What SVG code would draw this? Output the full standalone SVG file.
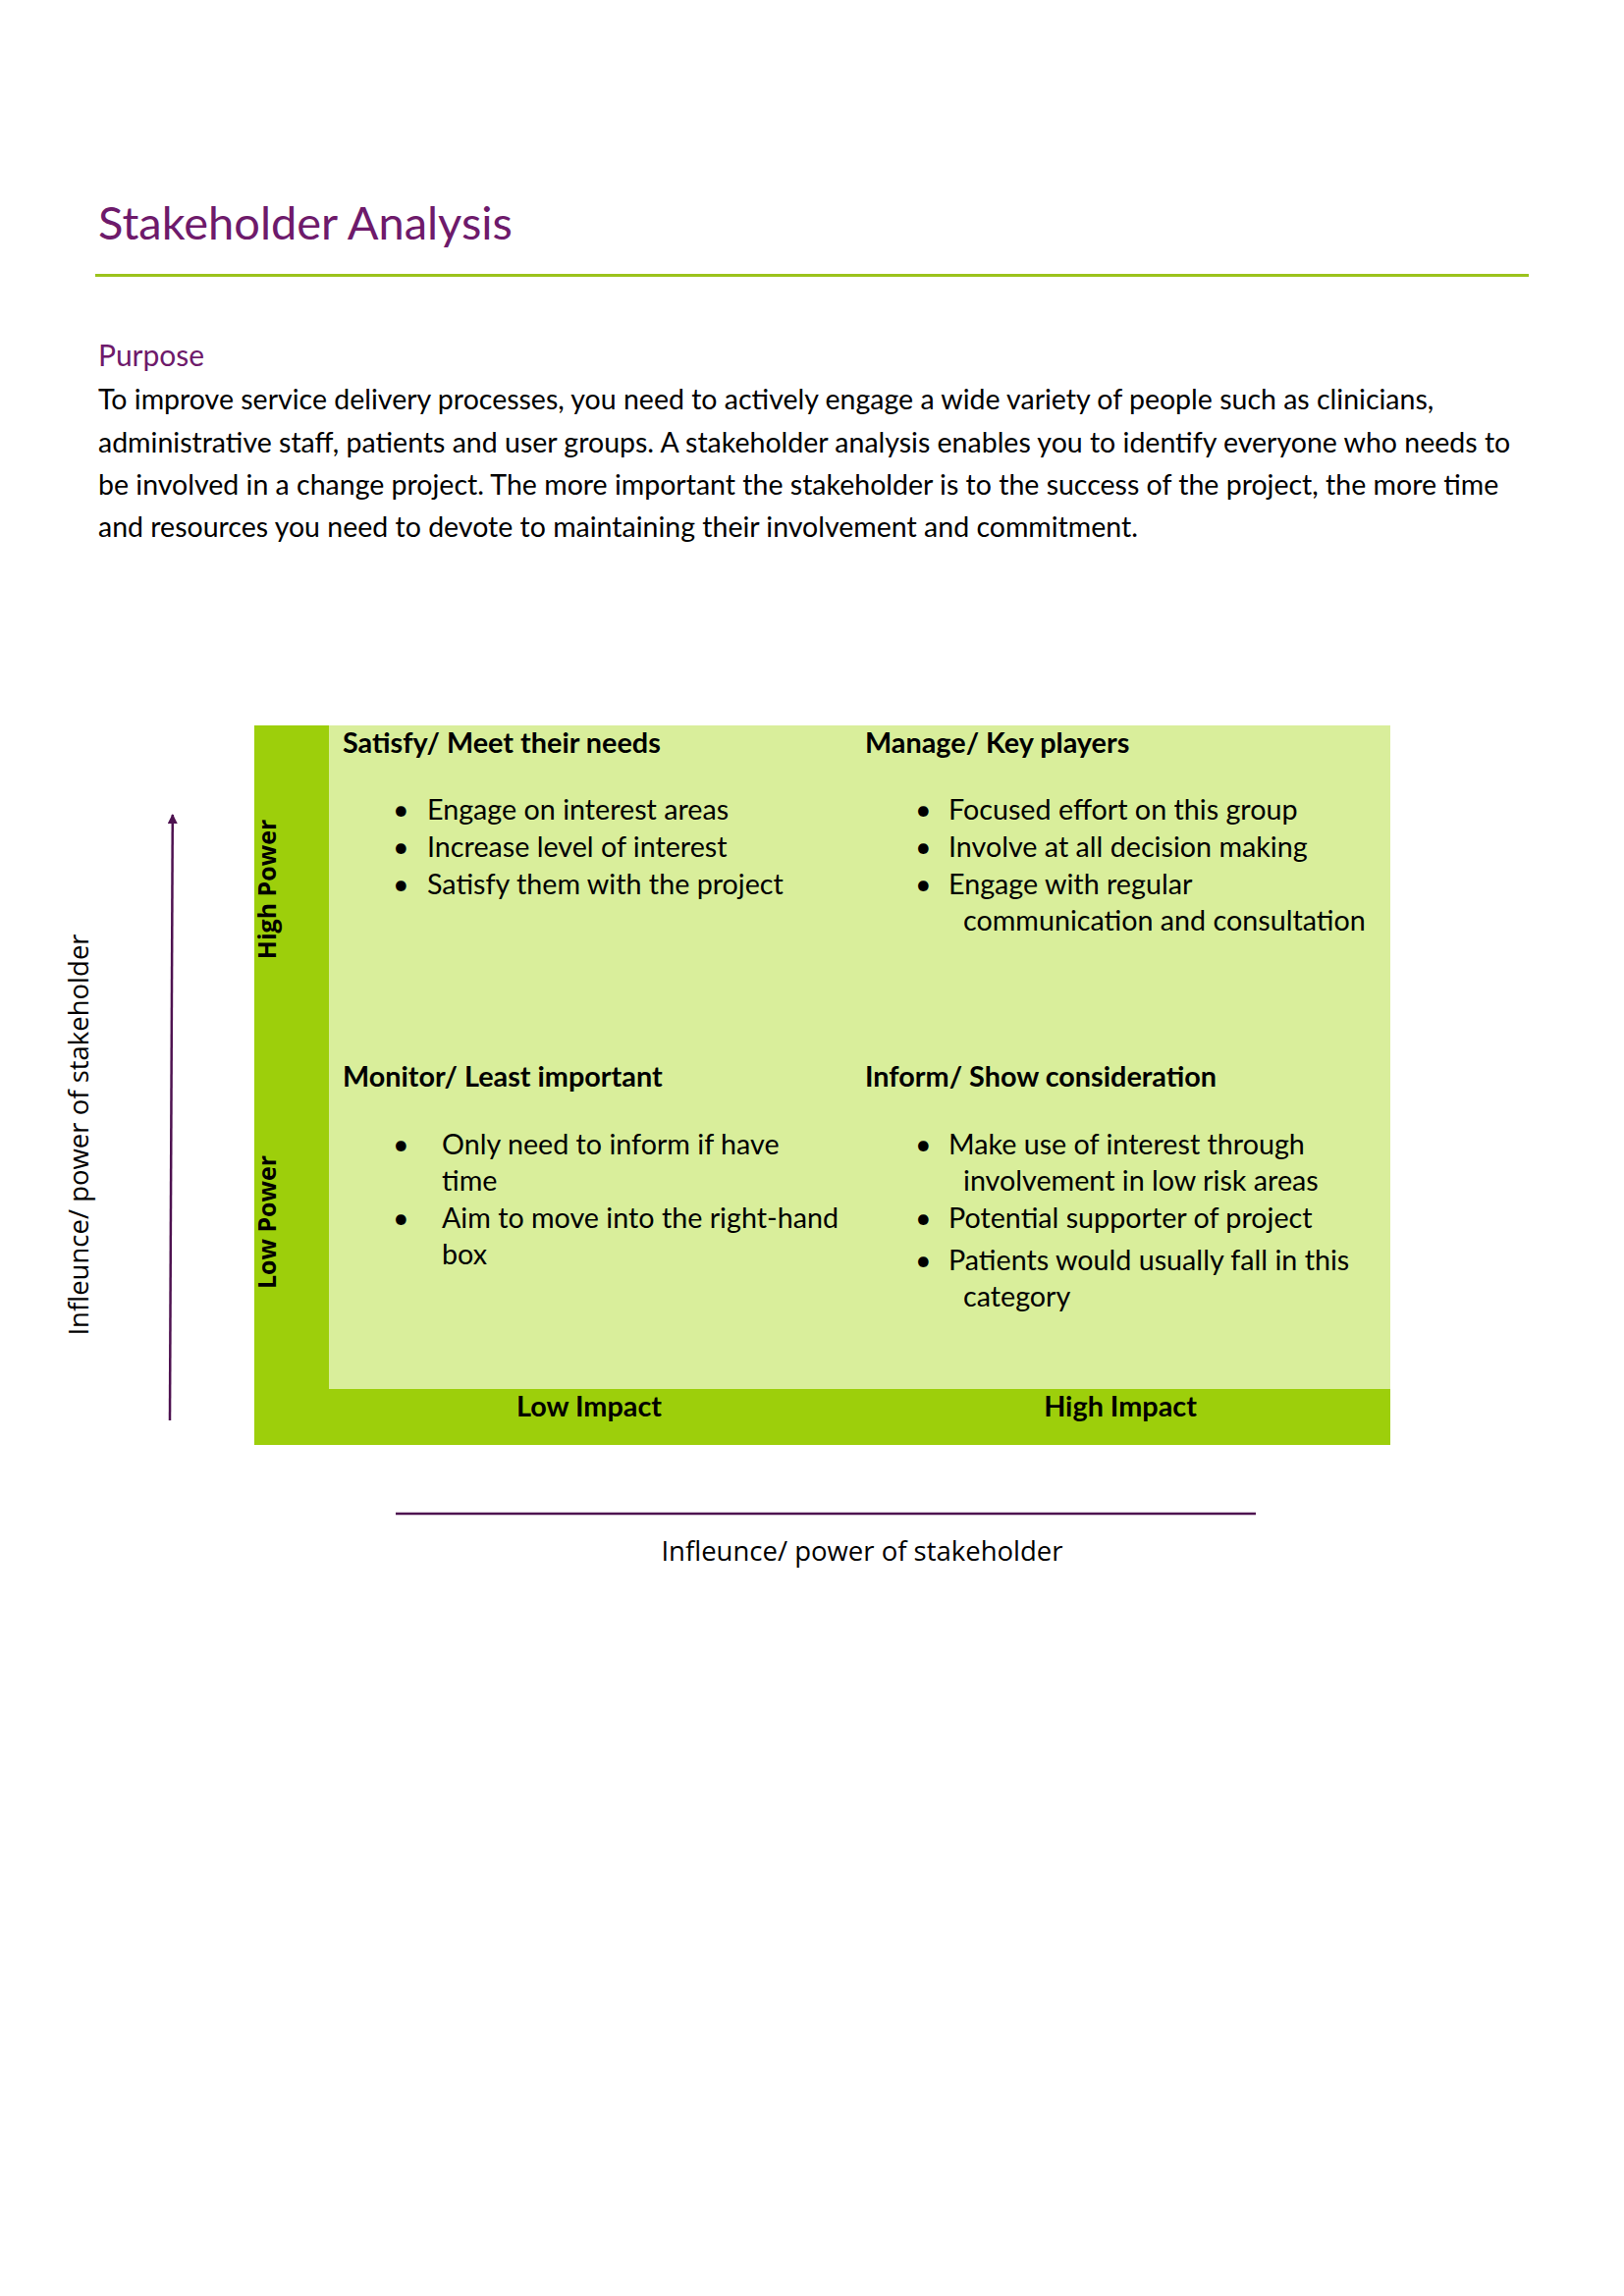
<svg xmlns="http://www.w3.org/2000/svg" width="1654" height="2339" viewBox="0 0 1654 2339">
<style>
.title{font-family:Lato,"Liberation Sans",sans-serif;font-size:47px;fill:#6E1A6B}
.sub{font-family:Lato,"Liberation Sans",sans-serif;font-size:30px;fill:#6E1A6B}
.body{font-family:Lato,"Liberation Sans",sans-serif;font-size:28.5px;fill:#000}
.head{font-family:Lato,"Liberation Sans",sans-serif;font-size:28.8px;font-weight:bold;fill:#000}
.txt{font-family:Lato,"Liberation Sans",sans-serif;font-size:28.7px;fill:#000}
.ax{font-family:"Open Sans","Noto Sans",sans-serif;font-size:27.5px;font-weight:500;fill:#000}
.axb{font-family:"Open Sans","Noto Sans",sans-serif;font-size:25px;font-weight:bold;fill:#000}
.conn{stroke:#4E1250;stroke-width:2.5;fill:none}
</style>
<defs>
<marker id="arr" viewBox="0 0 10 10" refX="9" refY="5" markerWidth="4" markerHeight="4" orient="auto" markerUnits="strokeWidth">
<path d="M0,0 L10,5 L0,10 z" fill="#4E1250"/>
</marker>
</defs>
<rect x="0" y="0" width="1654" height="2339" fill="#fff"/>
<g id="header">
<text class="title" x="100" y="244">Stakeholder Analysis</text>
<rect x="97" y="279" width="1460" height="3" fill="#9BC31C"/>
<text class="sub" x="100" y="373">Purpose</text>
<text class="body" x="100" y="417">To improve service delivery processes, you need to actively engage a wide variety of people such as clinicians,</text>
<text class="body" x="100" y="461">administrative staff, patients and user groups. A stakeholder analysis enables you to identify everyone who needs to</text>
<text class="body" x="100" y="504">be involved in a change project. The more important the stakeholder is to the success of the project, the more time</text>
<text class="body" x="100" y="547">and resources you need to devote to maintaining their involvement and commitment.</text>
</g>
<g id="matrix">
<rect x="259" y="739" width="1157" height="733" fill="#9DCF0B"/>
<rect x="335" y="739" width="1081" height="676" fill="#D9EE9B"/>
</g>
<g id="q-satisfy">
<text class="head" x="349" y="767">Satisfy/ Meet their needs</text>
<text class="txt" x="400" y="835">•</text><text class="txt" x="435" y="835">Engage on interest areas</text>
<text class="txt" x="400" y="873">•</text><text class="txt" x="435" y="873">Increase level of interest</text>
<text class="txt" x="400" y="911">•</text><text class="txt" x="435" y="911">Satisfy them with the project</text>
</g>
<g id="q-manage">
<text class="head" x="881" y="767">Manage/ Key players</text>
<text class="txt" x="932" y="835">•</text><text class="txt" x="966" y="835">Focused effort on this group</text>
<text class="txt" x="932" y="873">•</text><text class="txt" x="966" y="873">Involve at all decision making</text>
<text class="txt" x="932" y="911">•</text><text class="txt" x="966" y="911">Engage with regular</text>
<text class="txt" x="981" y="948">communication and consultation</text>
</g>
<g id="q-monitor">
<text class="head" x="349" y="1107">Monitor/ Least important</text>
<text class="txt" x="400" y="1176">•</text><text class="txt" x="450" y="1176">Only need to inform if have</text>
<text class="txt" x="450" y="1213">time</text>
<text class="txt" x="400" y="1251">•</text><text class="txt" x="450" y="1251">Aim to move into the right-hand</text>
<text class="txt" x="450" y="1288">box</text>
</g>
<g id="q-inform">
<text class="head" x="881" y="1107">Inform/ Show consideration</text>
<text class="txt" x="932" y="1176">•</text><text class="txt" x="966" y="1176">Make use of interest through</text>
<text class="txt" x="981" y="1213">involvement in low risk areas</text>
<text class="txt" x="932" y="1251">•</text><text class="txt" x="966" y="1251">Potential supporter of project</text>
<text class="txt" x="932" y="1294">•</text><text class="txt" x="966" y="1294">Patients would usually fall in this</text>
<text class="txt" x="981" y="1331">category</text>
</g>
<g id="axis-labels">
<text class="head" x="600" y="1443" text-anchor="middle">Low Impact</text>
<text class="head" x="1141" y="1443" text-anchor="middle">High Impact</text>
<text class="axb" transform="translate(281,906) rotate(-90)" text-anchor="middle">High Power</text>
<text class="axb" transform="translate(281,1245) rotate(-90)" text-anchor="middle">Low Power</text>
<text class="ax" transform="translate(90,1156) rotate(-90)" text-anchor="middle">Infleunce/ power of stakeholder</text>
<text class="ax" x="878" y="1590" text-anchor="middle">Infleunce/ power of stakeholder</text>
</g>
<g id="connectors">
<line class="conn" x1="173" y1="1447" x2="175.8" y2="830" marker-end="url(#arr)"/>
<line class="conn" x1="403" y1="1542" x2="1279" y2="1542" stroke-width="3"/>
</g>
</svg>
